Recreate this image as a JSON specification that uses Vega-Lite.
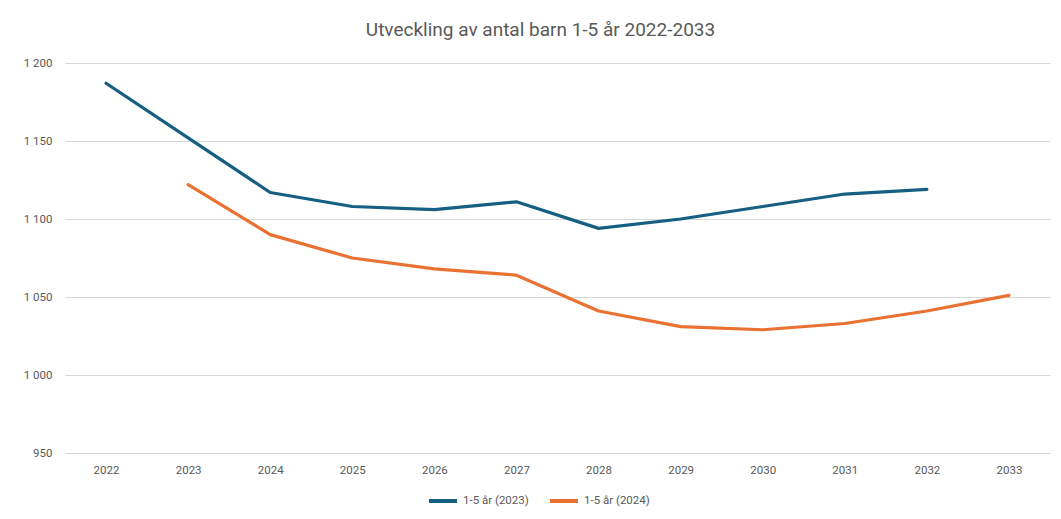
{
  "$schema": "https://vega.github.io/schema/vega-lite/v6.json",
  "width": 985,
  "height": 390,
  "padding": {"left": 5, "top": 21, "right": 6, "bottom": 5},
  "background": "white",
  "title": {
    "text": "Utveckling av antal barn 1-5 år 2022-2033",
    "fontSize": 19,
    "font": "Roboto, sans-serif",
    "fontWeight": "normal",
    "color": "#595959",
    "anchor": "middle",
    "frame": "group",
    "dx": -17,
    "offset": 17
  },
  "data": {
    "values": [
      {"serie": "1-5 år (2023)", "år": "2022", "antal": 1187},
      {"serie": "1-5 år (2023)", "år": "2023", "antal": 1152},
      {"serie": "1-5 år (2023)", "år": "2024", "antal": 1117},
      {"serie": "1-5 år (2023)", "år": "2025", "antal": 1108},
      {"serie": "1-5 år (2023)", "år": "2026", "antal": 1106},
      {"serie": "1-5 år (2023)", "år": "2027", "antal": 1111},
      {"serie": "1-5 år (2023)", "år": "2028", "antal": 1094},
      {"serie": "1-5 år (2023)", "år": "2029", "antal": 1100},
      {"serie": "1-5 år (2023)", "år": "2030", "antal": 1108},
      {"serie": "1-5 år (2023)", "år": "2031", "antal": 1116},
      {"serie": "1-5 år (2023)", "år": "2032", "antal": 1119},
      {"serie": "1-5 år (2024)", "år": "2023", "antal": 1122},
      {"serie": "1-5 år (2024)", "år": "2024", "antal": 1090},
      {"serie": "1-5 år (2024)", "år": "2025", "antal": 1075},
      {"serie": "1-5 år (2024)", "år": "2026", "antal": 1068},
      {"serie": "1-5 år (2024)", "år": "2027", "antal": 1064},
      {"serie": "1-5 år (2024)", "år": "2028", "antal": 1041},
      {"serie": "1-5 år (2024)", "år": "2029", "antal": 1031},
      {"serie": "1-5 år (2024)", "år": "2030", "antal": 1029},
      {"serie": "1-5 år (2024)", "år": "2031", "antal": 1033},
      {"serie": "1-5 år (2024)", "år": "2032", "antal": 1041},
      {"serie": "1-5 år (2024)", "år": "2033", "antal": 1051}
    ]
  },
  "mark": {"type": "line", "strokeWidth": 3.2, "strokeCap": "round", "strokeJoin": "round"},
  "encoding": {
    "x": {
      "field": "år",
      "type": "ordinal",
      "scale": {"type": "point", "padding": 0.5},
      "axis": {
        "title": null,
        "labelAngle": 0,
        "ticks": false,
        "domain": true,
        "domainColor": "#d9d9d9",
        "labelColor": "#595959",
        "labelFontSize": 11.5,
        "labelFont": "Roboto, sans-serif",
        "labelPadding": 11
      }
    },
    "y": {
      "field": "antal",
      "type": "quantitative",
      "scale": {"domain": [950, 1200], "nice": false, "zero": false},
      "axis": {
        "title": null,
        "values": [950, 1000, 1050, 1100, 1150, 1200],
        "labelExpr": "replace(format(datum.value, ','), ',', ' ')",
        "ticks": false,
        "domain": false,
        "gridColor": "#d9d9d9",
        "gridWidth": 1,
        "labelColor": "#595959",
        "labelFontSize": 11.5,
        "labelFont": "Roboto, sans-serif",
        "labelPadding": 13,
        "minExtent": 60,
        "maxExtent": 60
      }
    },
    "color": {
      "field": "serie",
      "type": "nominal",
      "scale": {"domain": ["1-5 år (2023)", "1-5 år (2024)"], "range": ["#156082", "#E97132"]},
      "legend": {
        "title": null,
        "orient": "none",
        "legendX": 362,
        "legendY": 422,
        "direction": "horizontal",
        "symbolType": "stroke",
        "symbolSize": 784,
        "symbolStrokeWidth": 4,
        "labelColor": "#595959",
        "labelFontSize": 11.5,
        "labelFont": "Roboto, sans-serif",
        "labelOffset": 4,
        "columnPadding": 13
      }
    }
  },
  "config": {"view": {"stroke": null}}
}
